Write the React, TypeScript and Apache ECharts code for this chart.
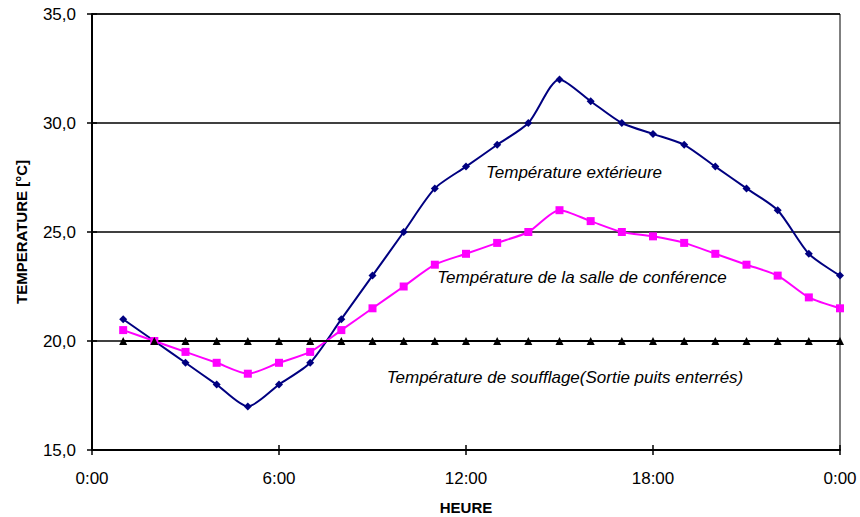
import React, { useEffect, useRef } from "react";
import * as echarts from "echarts";

const hours = [1, 2, 3, 4, 5, 6, 7, 8, 9, 10, 11, 12, 13, 14, 15, 16, 17, 18, 19, 20, 21, 22, 23, 24];
const outdoor = [21, 20, 19, 18, 17, 18, 19, 21, 23, 25, 27, 28, 29, 30, 32, 31, 30, 29.5, 29, 28, 27, 26, 24, 23];
const room = [20.5, 20, 19.5, 19, 18.5, 19, 19.5, 20.5, 21.5, 22.5, 23.5, 24, 24.5, 25, 26, 25.5, 25, 24.8, 24.5, 24, 23.5, 23, 22, 21.5];
const supply = [20, 20, 20, 20, 20, 20, 20, 20, 20, 20, 20, 20, 20, 20, 20, 20, 20, 20, 20, 20, 20, 20, 20, 20];
const seriesNames = [
  "Température extérieure",
  "Température de la salle de conférence",
  "Température de soufflage(Sortie puits enterrés)",
];

const FONT = "'Liberation Sans', Arial, sans-serif";

export default function App() {
  const ref = useRef<HTMLDivElement>(null);
  useEffect(() => {
    if (!ref.current) return;
    const chart = echarts.init(ref.current, undefined, { renderer: "svg" });
    const pair = (vals: number[]) => hours.map((h, i) => [h, vals[i]]);
    const xBase = { type: "value", min: 0, max: 24, interval: 6 };
    const yBase = { type: "value", min: 15, max: 35, interval: 5 };
    chart.setOption({
      animation: false,
      backgroundColor: "#fff",
      textStyle: { fontFamily: FONT },
      grid: {
        left: 92,
        right: 20,
        top: 14,
        bottom: 67,
        show: true,
        borderColor: "#000",
        borderWidth: 1,
        containLabel: false,
        outerBoundsMode: "none",
      },
      xAxis: [
        {
          ...xBase,
          name: "HEURE",
          nameLocation: "middle",
          nameGap: 50,
          nameTextStyle: { fontFamily: FONT, fontWeight: "bold", fontSize: 15, color: "#000" },
          axisLine: { lineStyle: { color: "#000", width: 2 } },
          axisTick: { show: true, length: 5, lineStyle: { color: "#000", width: 1.5 } },
          axisLabel: {
            fontFamily: FONT,
            fontSize: 17,
            color: "#000",
            margin: 20,
            formatter: (v: number) => `${v % 24}:00`,
          },
          splitLine: { show: false },
        },
        {
          ...xBase,
          position: "bottom",
          axisLine: { show: false },
          axisTick: { show: true, inside: true, length: 5, lineStyle: { color: "#000", width: 1.5 } },
          axisLabel: { show: false },
          splitLine: { show: false },
        },
      ],
      yAxis: [
        {
          ...yBase,
          position: "left",
          name: "TEMPERATURE [°C]",
          nameLocation: "middle",
          nameGap: 63,
          nameTextStyle: { fontFamily: FONT, fontWeight: "bold", fontSize: 15, color: "#000" },
          axisLine: { show: true, lineStyle: { color: "#000", width: 2 } },
          axisTick: { show: true, length: 5, lineStyle: { color: "#000", width: 1.5 } },
          axisLabel: {
            fontFamily: FONT,
            fontSize: 17,
            color: "#000",
            margin: 16,
            formatter: (v: number) => v.toFixed(1).replace(".", ","),
          },
          splitLine: { show: true, lineStyle: { color: "#000", width: 1.5 } },
        },
        {
          ...yBase,
          position: "left",
          axisLine: { show: false },
          axisTick: { show: true, inside: true, length: 5, lineStyle: { color: "#000", width: 1.5 } },
          axisLabel: { show: false },
          splitLine: { show: false },
        },
      ],
      series: [
        {
          name: seriesNames[0],
          type: "line",
          data: pair(outdoor),
          smooth: 0.25,
          symbol: "diamond",
          symbolSize: 8,
          lineStyle: { color: "#000080", width: 2 },
          itemStyle: { color: "#000080" },
        },
        {
          name: seriesNames[1],
          type: "line",
          data: pair(room),
          smooth: 0.25,
          symbol: "rect",
          symbolSize: 8,
          lineStyle: { color: "#FF00FF", width: 2 },
          itemStyle: { color: "#FF00FF" },
        },
        {
          name: seriesNames[2],
          type: "line",
          data: pair(supply),
          symbol: "triangle",
          symbolSize: 8,
          lineStyle: { color: "#000", width: 2 },
          itemStyle: { color: "#000" },
        },
      ],
      graphic: [
        { type: "text", x: 574, y: 172, style: { text: seriesNames[0], font: `italic 17px ${FONT}`, fill: "#000", textAlign: "center", textVerticalAlign: "middle" } },
        { type: "text", x: 582, y: 277, style: { text: seriesNames[1], font: `italic 17px ${FONT}`, fill: "#000", textAlign: "center", textVerticalAlign: "middle" } },
        { type: "text", x: 565, y: 377, style: { text: seriesNames[2], font: `italic 17px ${FONT}`, fill: "#000", textAlign: "center", textVerticalAlign: "middle" } },
      ],
    });
    return () => chart.dispose();
  }, []);
  return <div ref={ref} style={{ width: 860, height: 517, position: "absolute", left: 0, top: 0 }} />;
}
